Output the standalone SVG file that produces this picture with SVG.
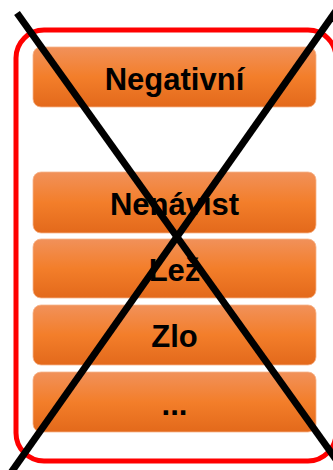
<svg xmlns="http://www.w3.org/2000/svg" width="333" height="470" viewBox="0 0 333 470">
  <defs>
    <linearGradient id="og" x1="0" y1="0" x2="0" y2="1">
      <stop offset="0" stop-color="#F1915A"/>
      <stop offset="0.5" stop-color="#F37E2A"/>
      <stop offset="1" stop-color="#E3691B"/>
    </linearGradient>
    <style>
      .box { fill: url(#og); stroke: #F6B48A; stroke-width: 0.8; }
      .lbl { font-family: "Liberation Sans", Arial, sans-serif; font-weight: bold; font-size: 31px; fill: #000; text-anchor: middle; }
      .cross { stroke: #000; stroke-width: 7; fill: none; }
    </style>
  </defs>
  <rect width="333" height="470" fill="#fff"/>
  <rect id="frame" x="16" y="30" width="320" height="431" rx="28" ry="28" fill="none" stroke="#FF0000" stroke-width="5"/>
  <g id="n-negativni">
    <rect class="box" x="33" y="47" width="283" height="60" rx="8"/>
    <text class="lbl" x="174.5" y="90">Negativní</text>
  </g>
  <g id="n-nenavist">
    <rect class="box" x="33" y="172" width="283" height="61" rx="8"/>
    <text class="lbl" x="174.5" y="215">Nenávist</text>
  </g>
  <g id="n-lez">
    <rect class="box" x="33" y="239" width="283" height="59" rx="8"/>
    <text class="lbl" x="174.5" y="281">Lež</text>
  </g>
  <g id="n-zlo">
    <rect class="box" x="33" y="305" width="283" height="60" rx="8"/>
    <text class="lbl" x="174.5" y="347">Zlo</text>
  </g>
  <g id="n-more">
    <rect class="box" x="33" y="372" width="283" height="60" rx="8"/>
    <text class="lbl" x="174.5" y="415">...</text>
  </g>
  <g id="connectors">
    <line class="cross" x1="17" y1="13" x2="340" y2="465"/>
    <line class="cross" x1="10" y1="474" x2="338" y2="8"/>
  </g>
</svg>
